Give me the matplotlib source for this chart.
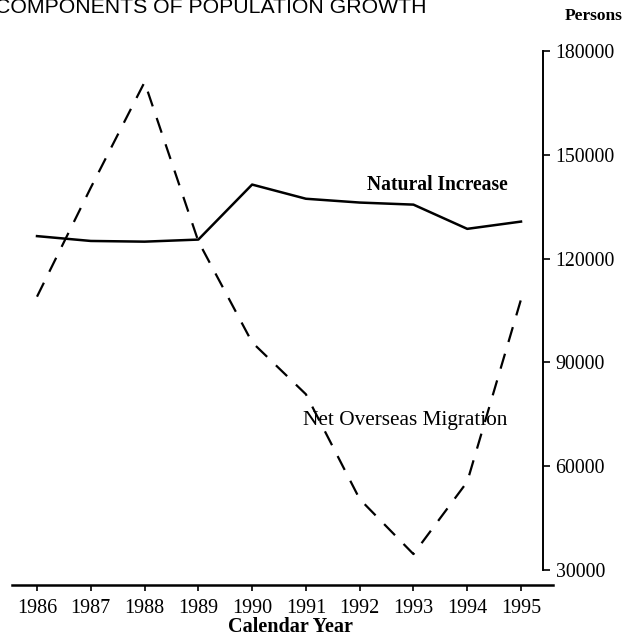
import matplotlib.pyplot as plt

years = [1986, 1987, 1988, 1989, 1990, 1991, 1992, 1993, 1994, 1995]
natural_increase = [126500, 125100, 124900, 125500, 141400, 137300, 136200, 135600, 128600, 130700]
net_overseas_migration = [109000, 140500, 171000, 125000, 95800, 80800, 50500, 34600, 55500, 108200]
y_ticks = [30000, 60000, 90000, 120000, 150000, 180000]

serif = ['Liberation Serif', 'DejaVu Serif']
W, H = 623, 637
fig = plt.figure(figsize=(W / 100, H / 100), dpi=100)
ax = fig.add_axes([12 / W, (H - 585) / H, (553 - 12) / W, (585 - 51) / H])

ax.plot(years, natural_increase, color='black', lw=1.8)
ax.plot(years, net_overseas_migration, color='black', lw=1.6, dashes=(7, 5.5))

ax.set_xlim(1985.535, 1995.595)
ax.set_ylim(25670, 180000)

for s in ['top', 'left']:
    ax.spines[s].set_visible(False)
ax.spines['right'].set_position(('data', 1995.41))
ax.spines['right'].set_bounds(30000, 180000)
ax.spines['right'].set_linewidth(1.4)
ax.spines['bottom'].set_linewidth(1.8)

ax.yaxis.tick_right()
ax.set_yticks(y_ticks)
ax.set_yticklabels([str(v) for v in y_ticks], family=serif, fontsize=14.3)
ax.set_xticks(years)
ax.set_xticklabels([str(y) for y in years], family=serif, fontsize=14.5)
ax.tick_params(axis='y', direction='out', length=5, width=1.2, pad=4)
ax.tick_params(axis='x', direction='out', length=4, width=1.2, pad=6)

ax.text(1993.45, 141350, 'Natural Increase', family=serif, fontsize=14.1,
        fontweight='bold', ha='center', va='center')
ax.text(1992.84, 73260, 'Net Overseas Migration', family=serif, fontsize=15.3,
        ha='center', va='center')

fig.text(290 / W, 1 - 627 / H, 'Calendar Year', family=serif, fontsize=14.5,
         fontweight='bold', ha='center', va='center')
fig.text(1.0, 1 - 16 / H, 'Persons', family=serif, fontsize=12.5,
         fontweight='bold', ha='right', va='center')
fig.text(-5 / W, 1 - 13 / H, 'COMPONENTS OF POPULATION GROWTH', family='Liberation Sans',
         fontsize=15.3, ha='left', va='baseline')

fig.savefig('out.png', dpi=100)
